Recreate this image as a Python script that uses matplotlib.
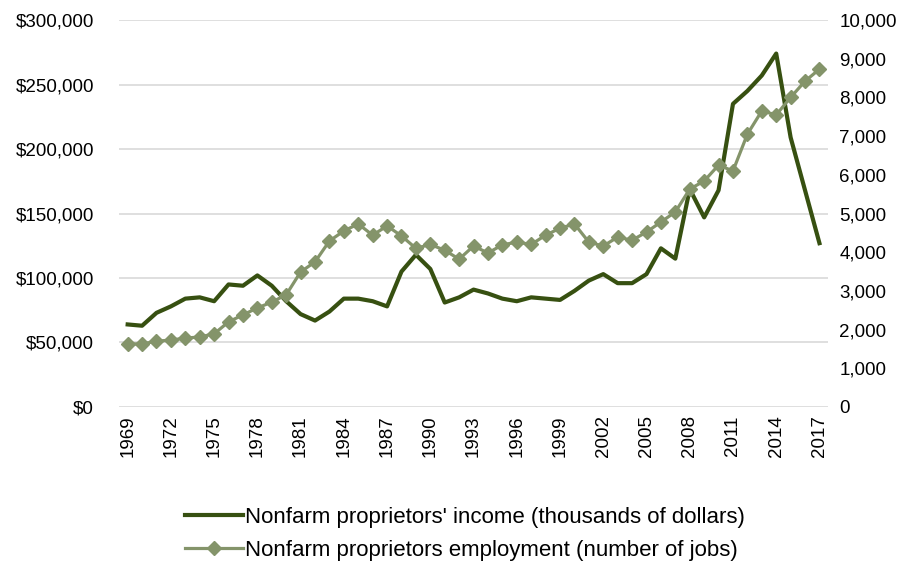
import matplotlib as ml
ml.use('Agg')
import matplotlib.pyplot as plt
from matplotlib.ticker import FuncFormatter

years = list(range(1969, 2018))

# Nonfarm proprietors' income, thousands of dollars
income = [64, 63, 73, 78, 84, 85, 82, 95, 94, 102,
          94, 82, 72, 67, 74, 84, 84, 82, 78, 105,
          118, 107, 81, 85, 91, 88, 84, 82, 85, 84,
          83, 90, 98, 103, 96, 96, 103, 123, 115, 169,
          147, 168, 235, 245, 257, 274, 209, 168, 127]
income = [v * 1000 for v in income]

# Nonfarm proprietors employment, number of jobs
jobs = [1630, 1630, 1700, 1730, 1780, 1810, 1890, 2200, 2380, 2560,
        2710, 2900, 3490, 3750, 4290, 4550, 4730, 4440, 4680, 4420,
        4100, 4200, 4050, 3820, 4160, 3980, 4190, 4260, 4200, 4440,
        4620, 4730, 4260, 4160, 4390, 4310, 4520, 4780, 5040, 5630,
        5840, 6250, 6100, 7050, 7650, 7550, 8000, 8420, 8730]

income_label = "Nonfarm proprietors' income (thousands of dollars)"
jobs_label = "Nonfarm proprietors employment (number of jobs)"

dark = '#375011'
light = '#84946A'

plt.rcParams['font.family'] = ['Liberation Sans', 'DejaVu Sans']

fig = plt.figure(figsize=(9.12, 5.67), dpi=100)
ax = fig.add_axes([0.1305, 0.2822, 0.7775, 0.6825])
ax2 = ax.twinx()

l1, = ax.plot(years, income, color=dark, lw=3.0, zorder=3)
l2, = ax2.plot(years, jobs, color=light, lw=2.3, marker='D', ms=7,
               markeredgecolor=light, zorder=3)

ax.set_xlim(1968.4, 2017.6)
ax.set_ylim(0, 300000)
ax2.set_ylim(0, 10000)
ax.set_yticks(range(0, 300001, 50000))
ax2.set_yticks(range(0, 10001, 1000))
ax.yaxis.set_major_formatter(FuncFormatter(lambda v, p: '${:,.0f}'.format(v)))
ax2.yaxis.set_major_formatter(FuncFormatter(lambda v, p: '{:,.0f}'.format(v)))
ax.set_xticks(years[::3])
ax.set_xticklabels([str(y) for y in years[::3]], rotation=90)

ax.grid(axis='y', color='#D9D9D9', lw=1.2, zorder=0)
ax.set_axisbelow(True)
for a in (ax, ax2):
    for s in a.spines.values():
        s.set_visible(False)
    a.tick_params(length=0, labelsize=13.5, colors='black')
ax.tick_params(axis='y', pad=18)
ax2.tick_params(axis='y', pad=8)
ax.tick_params(axis='x', pad=6)

fig.legend([l1, l2], [income_label, jobs_label], loc='lower center',
           bbox_to_anchor=(0.51, -0.017), frameon=False, fontsize=16,
           handlelength=2.6, handletextpad=0.1, labelspacing=0.55,
           borderpad=0.2)

fig.savefig('out.png', dpi=100)
